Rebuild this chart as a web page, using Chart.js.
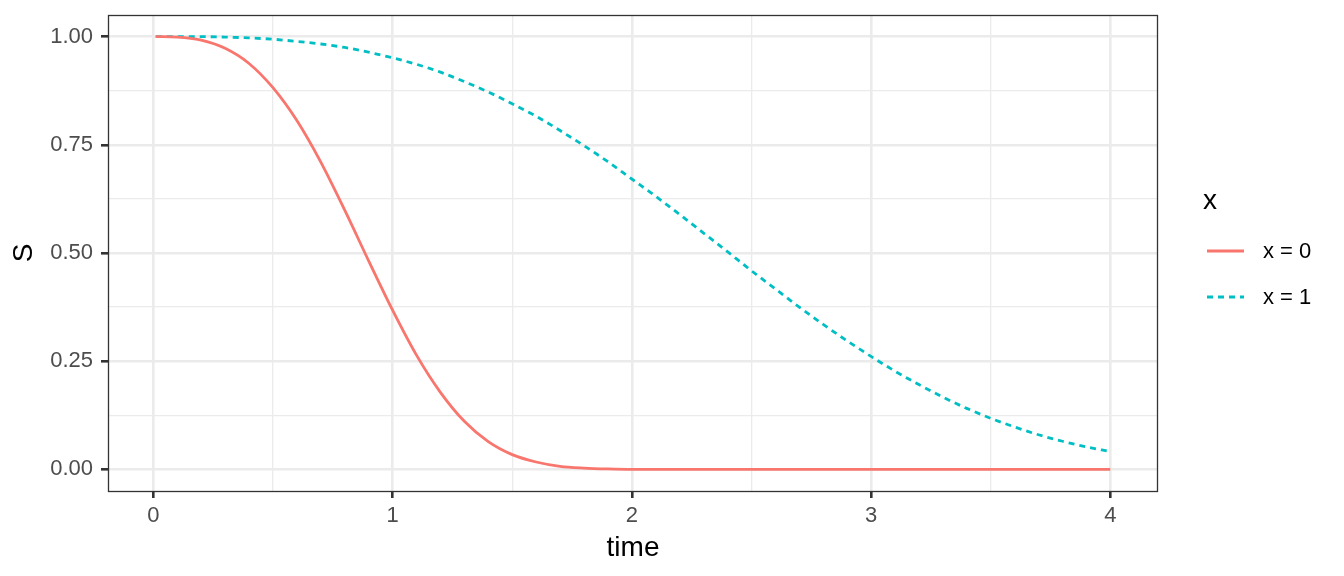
<!DOCTYPE html>
<html lang="en">
<head>
  <meta charset="UTF-8">
  <title>S vs time</title>
  <script src="https://cdn.jsdelivr.net/npm/chart.js"></script>
  <style>
    html, body { margin: 0; padding: 0; background: #fff; }
    #wrap { width: 1344px; height: 576px; position: relative; }
  </style>
</head>
<body>
  <div id="wrap"><canvas id="myChart"></canvas></div>
  <script>
    // values
    const time = [0.01, 0.1, 0.2, 0.3, 0.4, 0.5, 0.6, 0.7, 0.8, 0.9,
                  1.0, 1.1, 1.2, 1.3, 1.4, 1.5, 1.6, 1.7, 1.8, 1.9,
                  2.0, 2.1, 2.2, 2.3, 2.4, 2.5, 2.6, 2.7, 2.8, 2.9,
                  3.0, 3.1, 3.2, 3.3, 3.4, 3.5, 3.6, 3.7, 3.8, 3.9, 4.0];
    const sX0 = [1.000, 0.999, 0.992, 0.973, 0.938, 0.882, 0.806, 0.710, 0.599, 0.482,
                 0.368, 0.264, 0.178, 0.111, 0.064, 0.034, 0.017, 0.007, 0.003, 0.001,
                 0.000, 0, 0, 0, 0, 0, 0, 0, 0, 0,
                 0, 0, 0, 0, 0, 0, 0, 0, 0, 0, 0];
    const sX1 = [1.000, 1.000, 1.000, 0.999, 0.997, 0.994, 0.989, 0.983, 0.975, 0.964,
                 0.951, 0.936, 0.918, 0.896, 0.872, 0.845, 0.816, 0.783, 0.748, 0.711,
                 0.671, 0.631, 0.589, 0.546, 0.503, 0.459, 0.417, 0.375, 0.335, 0.297,
                 0.261, 0.227, 0.196, 0.167, 0.141, 0.118, 0.098, 0.080, 0.065, 0.052, 0.041];
    const seriesLabels = ['x = 0', 'x = 1'];
    const legendTitle = 'x';

    // tick labels
    const xBreaks = [0, 1, 2, 3, 4];
    const xMinor = [0.5, 1.5, 2.5, 3.5];
    const yBreaks = [0, 0.25, 0.5, 0.75, 1];
    const yMinor = [0.125, 0.375, 0.625, 0.875];

    const FONT = "'Liberation Sans', Arial, Helvetica, sans-serif";
    const RED = '#F8766D';
    const TEAL = '#00BFC4';

    const isMajor = (list, v) => list.some(b => Math.abs(b - v) < 1e-9);

    // panel border + legend, drawn by hand like ggplot
    const panelAndLegend = {
      id: 'panelAndLegend',
      afterDraw(chart) {
        const { ctx, chartArea: a } = chart;
        ctx.save();
        ctx.strokeStyle = '#333333';
        ctx.lineWidth = 1.3;
        ctx.strokeRect(a.left + 0.5, a.top + 0.5, a.right - a.left - 1, a.bottom - a.top);

        const lx = a.right + 45;
        ctx.fillStyle = '#000';
        ctx.font = '28px ' + FONT;
        ctx.textBaseline = 'middle';
        ctx.textAlign = 'left';
        ctx.fillText(legendTitle, lx, 201);

        chart.data.datasets.forEach((ds, i) => {
          const y = 251 + i * 46;
          ctx.beginPath();
          ctx.strokeStyle = ds.borderColor;
          ctx.lineWidth = ds.borderWidth;
          ctx.setLineDash(ds.borderDash || []);
          ctx.moveTo(lx + 4, y);
          ctx.lineTo(lx + 41, y);
          ctx.stroke();
          ctx.setLineDash([]);
          ctx.fillStyle = '#000';
          ctx.font = '22px ' + FONT;
          ctx.fillText(ds.label, lx + 60, y + 1);
        });
        ctx.restore();
      }
    };

    const ctx = document.getElementById('myChart');
    const chart = new Chart(ctx, {
      type: 'line',
      data: {
        datasets: [{
          label: seriesLabels[0],
          data: time.map((t, i) => ({ x: t, y: sX0[i] })),
          borderColor: RED,
          borderWidth: 2.8,
          pointRadius: 0,
          fill: false,
          cubicInterpolationMode: 'monotone'
        }, {
          label: seriesLabels[1],
          data: time.map((t, i) => ({ x: t, y: sX1[i] })),
          borderColor: TEAL,
          borderWidth: 2.8,
          borderDash: [6, 5],
          pointRadius: 0,
          fill: false,
          cubicInterpolationMode: 'monotone'
        }]
      },
      options: {
        responsive: true,
        maintainAspectRatio: false,
        animation: false,
        layout: { padding: { top: 15, right: 186, bottom: 0, left: 0 } },
        plugins: {
          legend: { display: false },
          tooltip: { enabled: false }
        },
        scales: {
          x: {
            type: 'linear',
            min: -0.1895,
            max: 4.1995,
            afterFit: s => { s.height = 85; s.paddingLeft = 0; s.paddingRight = 0; },
            afterBuildTicks: s => {
              s.ticks = xBreaks.concat(xMinor).sort((a, b) => a - b).map(v => ({ value: v }));
            },
            border: { display: false },
            grid: {
              color: '#EBEBEB',
              lineWidth: c => isMajor(xBreaks, c.tick.value) ? 2.6 : 1.3,
              tickColor: c => isMajor(xBreaks, c.tick.value) ? '#333333' : 'rgba(0,0,0,0)',
              tickWidth: 2.6,
              tickLength: 7
            },
            ticks: {
              autoSkip: false,
              maxRotation: 0,
              padding: 5,
              color: '#4D4D4D',
              font: { family: FONT, size: 22 },
              callback: v => isMajor(xBreaks, v) ? String(Math.round(v)) : ''
            },
            title: {
              display: true,
              text: 'time',
              color: '#000',
              font: { family: FONT, size: 28 },
              padding: { top: 0, bottom: 11 }
            }
          },
          y: {
            type: 'linear',
            min: -0.05,
            max: 1.05,
            afterFit: s => { s.width = 108; s.paddingTop = 0; s.paddingBottom = 0; },
            afterBuildTicks: s => {
              s.ticks = yBreaks.concat(yMinor).sort((a, b) => a - b).map(v => ({ value: v }));
            },
            border: { display: false },
            grid: {
              color: '#EBEBEB',
              lineWidth: c => isMajor(yBreaks, c.tick.value) ? 2.6 : 1.3,
              tickColor: c => isMajor(yBreaks, c.tick.value) ? '#333333' : 'rgba(0,0,0,0)',
              tickWidth: 2.6,
              tickLength: 7
            },
            ticks: {
              autoSkip: false,
              padding: 8,
              color: '#4D4D4D',
              font: { family: FONT, size: 22 },
              callback: v => isMajor(yBreaks, v) ? v.toFixed(2) : ''
            },
            title: {
              display: true,
              text: 'S',
              color: '#000',
              font: { family: FONT, size: 28 },
              padding: { top: 7, bottom: 0 }
            }
          }
        }
      },
      plugins: [panelAndLegend]
    });
  </script>
</body>
</html>
